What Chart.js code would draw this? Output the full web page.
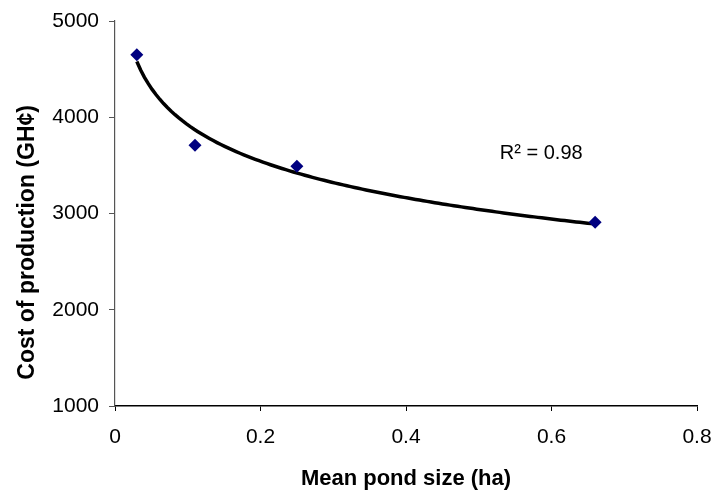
<!DOCTYPE html>
<html>
<head>
<meta charset="utf-8">
<script src="https://cdn.jsdelivr.net/npm/chart.js@4.4.1/dist/chart.umd.min.js"></script>
<style>
  html, body { margin: 0; padding: 0; background: #fff; }
  #wrap { width: 712px; height: 493px; position: relative; }
</style>
</head>
<body>
<div id="wrap"><canvas id="c"></canvas></div>
<script>
// Data
const pondSize = [0.03, 0.11, 0.25, 0.66];        // Mean pond size (ha)
const costProd = [4650, 3710, 3490, 2910];        // Cost of production (GH¢)
const xTicks = [0, 0.2, 0.4, 0.6, 0.8];
const yTicks = [1000, 2000, 3000, 4000, 5000];
const r2Label = 'R² = 0.98';
const yTitle = 'Cost of production (GH¢)';
const xTitle = 'Mean pond size (ha)';

// Logarithmic trendline (least squares fit y = a ln x + b from the data)
const lx = pondSize.map(Math.log);
const mx = lx.reduce((s, v) => s + v, 0) / lx.length;
const my = costProd.reduce((s, v) => s + v, 0) / costProd.length;
let sxy = 0, sxx = 0;
lx.forEach((v, i) => { sxy += (v - mx) * (costProd[i] - my); sxx += (v - mx) * (v - mx); });
const a = sxy / sxx, b = my - a * mx;
const trend = [];
const x0 = Math.min(...pondSize), x1 = Math.max(...pondSize);
for (let i = 0; i <= 120; i++) {
  const x = x0 + (x1 - x0) * i / 120;
  trend.push({ x: x, y: a * Math.log(x) + b });
}

const textPlugin = {
  id: 'texts',
  afterDatasetsDraw(chart) {
    const { ctx, scales } = chart;
    ctx.save();
    // R² annotation
    ctx.font = '20px "Liberation Sans", Arial, sans-serif';
    ctx.fillStyle = '#000';
    ctx.textAlign = 'left';
    ctx.textBaseline = 'middle';
    ctx.fillText(r2Label, scales.x.getPixelForValue(0.529), scales.y.getPixelForValue(3624));
    // Y axis title
    ctx.font = 'bold 23px "Liberation Sans", Arial, sans-serif';
    ctx.textAlign = 'center';
    ctx.translate(28, scales.y.getPixelForValue(2700));
    ctx.rotate(-Math.PI / 2);
    ctx.fillText(yTitle, 0, 0);
    ctx.restore();
  }
};

const tickFont = { family: '"Liberation Sans", Arial, sans-serif', size: 21 };
const titleFont = { family: '"Liberation Sans", Arial, sans-serif', size: 22, weight: 'bold' };

new Chart(document.getElementById('c'), {
  type: 'scatter',
  data: {
    datasets: [
      {
        type: 'line',
        data: trend,
        borderColor: '#000',
        borderWidth: 3.5,
        pointRadius: 0,
        tension: 0,
        fill: false,
        order: 2
      },
      {
        data: pondSize.map((x, i) => ({ x: x, y: costProd[i] })),
        pointStyle: 'rectRot',
        pointRadius: 6.5,
        pointBackgroundColor: '#000080',
        pointBorderColor: '#000080',
        pointBorderWidth: 0,
        showLine: false,
        order: 1
      }
    ]
  },
  options: {
    responsive: true,
    maintainAspectRatio: false,
    animation: false,
    layout: { padding: { left: 0, right: 15, top: 21, bottom: 0 } },
    plugins: { legend: { display: false }, tooltip: { enabled: false } },
    scales: {
      x: {
        type: 'linear',
        min: 0, max: 0.8,
        afterBuildTicks: s => { s.ticks = xTicks.map(v => ({ value: v })); },
        afterFit: s => { s.height = 87; s.paddingRight = 0; s.paddingLeft = 0; },
        ticks: { font: tickFont, color: '#000', padding: 14, maxRotation: 0,
                 callback: v => String(v) },
        grid: { drawOnChartArea: false, drawTicks: true, tickLength: 5, color: '#000', tickWidth: 1 },
        border: { color: '#000', width: 1.5 },
        title: { display: true, text: xTitle, font: titleFont, color: '#000',
                 padding: { top: 0, bottom: 1 } }
      },
      y: {
        type: 'linear',
        min: 1000, max: 5000,
        afterBuildTicks: s => { s.ticks = yTicks.map(v => ({ value: v })); },
        afterFit: s => { s.width = 115; s.paddingTop = 0; s.paddingBottom = 0; },
        ticks: { font: tickFont, color: '#000', padding: 10, callback: v => String(v) },
        grid: { drawOnChartArea: false, drawTicks: true, tickLength: 6, color: '#555', tickWidth: 1 },
        border: { color: '#555', width: 1.2 },
        title: { display: false }
      }
    }
  },
  plugins: [textPlugin]
});
</script>
</body>
</html>
